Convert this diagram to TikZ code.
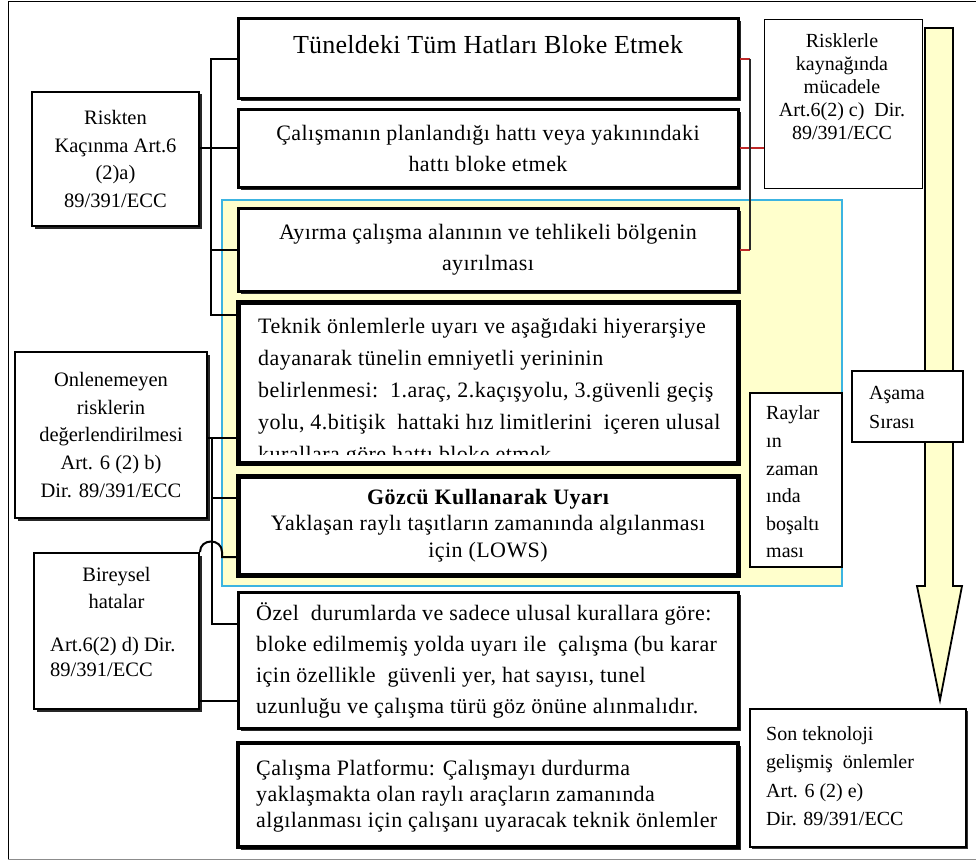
\documentclass[tikz,border=0pt]{standalone}
\usepackage{fontspec}
\setmainfont{Liberation Serif}
\newfontfamily\spacedfont[LetterSpace=2]{Liberation Serif}
\newfontfamily\titlefont[LetterSpace=1]{Liberation Serif}
\usetikzlibrary{calc,shadows}
\definecolor{paleyellow}{HTML}{FFFFCC}
\definecolor{frameblue}{RGB}{60,180,225}
\definecolor{linkred}{RGB}{190,40,40}
\definecolor{linkdark}{RGB}{40,40,40}

\begin{document}
\begin{tikzpicture}[x=1pt,y=-1pt,
  shade2/.style={drop shadow={shadow xshift=2.5pt, shadow yshift=-2.5pt, fill=black!85, opacity=1}},
  box/.style={draw=black, fill=white, line width=3pt, inner sep=0pt, shade2},
  heavybox/.style={box, line width=5pt},
  sidebox/.style={box, line width=2pt},
  thinbox/.style={draw=black, fill=white, line width=1.2pt, inner sep=0pt},
  midtext/.style={font=\fontsize{22}{31}\spacedfont, align=center},
  lefttext/.style={font=\fontsize{22}{31}\spacedfont, align=left, inner sep=0pt},
  sidetext/.style={font=\fontsize{20.5}{27.6}\selectfont, align=center},
  notetext/.style={font=\fontsize{20}{27.6}\selectfont, align=left, inner sep=0pt},
  conn/.style={draw=black, line width=2pt},
  redconn/.style={draw=linkred, line width=2pt},
  darkconn/.style={draw=linkdark, line width=2pt},
]
\useasboundingbox (0,0) rectangle (976,861);
\fill[white] (0,0) rectangle (976,861);
% outer frame
\draw[line width=1pt] (976,2) -- (8,2) -- (8,859);
\draw[line width=1pt, black!45] (8,859) -- (976,859);

% shaded panel around the middle measures
\node[draw=frameblue, fill=paleyellow, line width=2.5pt, inner sep=0pt,
      minimum width=620, minimum height=386] (panel) at (532,393) {};

% order-of-steps arrow
\draw[line width=1.8pt, fill=paleyellow, line join=miter]
  (925,28) -- (953,28) -- (953,586) -- (962,586) -- (940,700)
  -- (917,586) -- (925,586) -- cycle;

% central column of measures
\node[box, minimum width=500, minimum height=80] (tb) at (488,59) {};
\node[font=\fontsize{26}{30}\titlefont] (tbtext) at (488,45)
  {Tüneldeki Tüm Hatları Bloke Etmek};

\node[box, midtext, minimum width=500, minimum height=77] (b2) at (488,148.5)
  {Çalışmanın planlandığı hattı veya yakınındaki\\hattı bloke etmek};

\node[box, midtext, minimum width=500, minimum height=83] (b3) at (488,249.5)
  {Ayırma çalışma alanının ve tehlikeli bölgenin\\ayırılması};

\node[heavybox, minimum width=500, minimum height=161] (b4) at (488,382.5) {};
\begin{scope}
  \clip ($(b4.north west)+(5,5)$) rectangle ($(b4.south east)+(-5,-11)$);
  \node[lefttext, font=\fontsize{22}{32}\spacedfont, anchor=north west] (b4text) at (258,318)
    {Teknik önlemlerle uyarı ve aşağıdaki hiyerarşiye\\
     dayanarak tünelin emniyetli yerininin\\
     belirlenmesi:\ \ 1.araç, 2.kaçışyolu, 3.güvenli geçiş\\
     yolu, 4.bitişik\ \ hattaki hız limitlerini\ \ içeren ulusal\\
     kurallara göre hattı bloke etmek};
\end{scope}

\node[heavybox, midtext, font=\fontsize{22}{26.5}\spacedfont,
      minimum width=500, minimum height=99] (b5) at (488,525.5)
  {\bfseries Gözcü Kullanarak Uyarı\\
   Yaklaşan raylı taşıtların zamanında algılanması\\
   için (LOWS)};

\node[box, minimum width=500, minimum height=136] (b6) at (488,660) {};
\node[lefttext, anchor=west] (b6text) at (256,660)
  {Özel\ \ durumlarda ve sadece ulusal kurallara göre:\\
   bloke edilmemiş yolda uyarı ile\ \ çalışma (bu karar\\
   için özellikle\ \ güvenli yer, hat sayısı, tunel\\
   uzunluğu ve çalışma türü göz önüne alınmalıdır.};

\node[box, line width=4pt, minimum width=500, minimum height=104] (b7) at (488,795) {};
\node[lefttext, font=\fontsize{22}{26}\spacedfont, anchor=west] (b7text) at (256,796)
  {Çalışma Platformu: Çalışmayı durdurma\\
   yaklaşmakta olan raylı araçların zamanında\\
   algılanması için çalışanı uyaracak teknik önlemler};

% directive boxes on the left
\node[sidebox, sidetext, minimum width=167, minimum height=134] (L1) at (115.5,159)
  {Riskten\\Kaçınma\ Art.6\\(2)a)\\89/391/ECC};

\node[sidebox, sidetext, minimum width=192, minimum height=166] (L2) at (111,435)
  {Onlenemeyen\\risklerin\\değerlendirilmesi\\Art. 6 (2) b)\\Dir. 89/391/ECC};

\node[sidebox, minimum width=165, minimum height=156] (L3) at (116.5,631) {};
\node[sidetext] (L3head) at (116.5,588) {Bireysel\\hatalar};
\node[notetext, font=\fontsize{20.5}{25}\selectfont, anchor=west] (L3ref) at (50,657)
  {Art.6(2) d) Dir.\\89/391/ECC};

% boxes on the right
\node[thinbox, line width=1pt, minimum width=158, minimum height=168] (r1) at (843,104) {};
\node[font=\fontsize{20}{23}\selectfont, align=center] (r1text) at (842,87)
  {Risklerle\\kaynağında\\mücadele\\Art.6(2) c)\ \ Dir.\\89/391/ECC};

\node[thinbox, minimum width=92, minimum height=174] (rails) at (796,480) {};
\node[notetext, anchor=west] (railstext) at (766,482)
  {Raylar\\ın\\zaman\\ında\\boşaltı\\ması};

\node[thinbox, line width=1.6pt, minimum width=111, minimum height=71] (order) at (907.5,406.5) {};
\node[notetext, font=\fontsize{20}{29}\selectfont, anchor=west] (ordertext) at (869,407)
  {Aşama\\Sırası};

\node[thinbox, line width=1.4pt, minimum width=216, minimum height=138,
      drop shadow={shadow xshift=1.5pt, shadow yshift=-1.5pt, fill=black!80, opacity=1}]
      (tech) at (858,778) {};
\node[notetext, font=\fontsize{20}{28.5}\selectfont, anchor=west] (techtext) at (766,776)
  {Son teknoloji\\gelişmiş\ \ önlemler\\Art. 6 (2) e)\\Dir. 89/391/ECC};

% connectors of the first directive box
\coordinate (v1) at (211,0);
\coordinate (b4top) at (238,315);
\draw[conn] (tb.west) -- (v1 |- tb.west) -- (v1 |- b4top) -- (b4top);
\draw[conn] (v1 |- b3.west) -- (b3.west);
\draw[conn] (L1.east |- b2.west) -- (b2.west);

% connectors of the second directive box
\coordinate (v2) at (212,0);
\coordinate (b4low) at (238,438);
\coordinate (b5mid) at (238,498);
\coordinate (b6top) at (238,624);
\draw[conn] (L2.east |- b4low) -- (b4low);
\draw[conn] (v2 |- b4low) -- (v2 |- b6top) -- (b6top);
\draw[conn] (v2 |- b5mid) -- (b5mid);

% connectors of the third directive box, hopping over the second trunk
\coordinate (hop) at (222,0);
\coordinate (b5low) at (238,557);
\coordinate (b6low) at (238,701);
\draw[conn] (L3.north east) .. controls ($(L3.north east)+(0,-14)$) and (222,538)
  .. (222,552) -- (hop |- b5low) -- (b5low);
\draw[conn] (L3.east |- b6low) -- (b6low);

% bracket to the right-hand directive box
\coordinate (rv) at (750,0);
\draw[redconn] (tb.east) -- (rv |- tb.east);
\draw[redconn] (b3.east) -- (rv |- b3.east);
\draw[redconn] (b2.east) -- (r1.west |- b2.east);
\draw[darkconn] (rv |- tb.east) -- (rv |- b3.east);
\end{tikzpicture}
\end{document}
